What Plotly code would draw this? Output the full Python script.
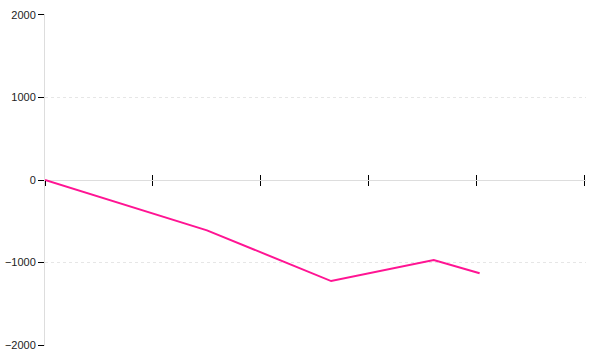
import plotly.graph_objects as go

x_values = [0, 30, 53, 72, 80.5]
y_values = [0, -610, -1225, -970, -1130]
x_ticks = [0, 20, 40, 60, 80, 100]
y_ticks = [-2000, -1000, 0, 1000, 2000]

fig = go.Figure()
fig.add_trace(go.Scatter(x=x_values, y=y_values, mode="lines",
                         line=dict(color="#ff1493", width=2), showlegend=False))
# invisible trace to carry the inward tick axis
fig.add_trace(go.Scatter(x=x_values, y=y_values, mode="lines", xaxis="x2",
                         line=dict(color="rgba(0,0,0,0)", width=0), showlegend=False,
                         hoverinfo="skip"))

common_x = dict(range=[0, 100.2], tickvals=x_ticks, showticklabels=False,
                showgrid=False, zeroline=False, showline=False,
                ticklen=5, tickwidth=1, tickcolor="#000",
                anchor="free", position=0.5, automargin=False)

fig.update_layout(
    width=600, height=360,
    margin=dict(l=45, r=14, t=14, b=14),
    plot_bgcolor="white", paper_bgcolor="white",
    font=dict(family="Liberation Sans, Arial", size=11, color="#222"),
    xaxis=dict(ticks="outside", **common_x),
    xaxis2=dict(ticks="inside", overlaying="x", matches="x", **common_x),
    yaxis=dict(range=[-2012, 2012], tickvals=y_ticks, ticks="outside", ticklen=6,
               tickcolor="#000", showline=True, linecolor="#ddd", linewidth=1,
               showgrid=True, gridcolor="#e6e6e6", griddash="3px,3px",
               zeroline=True, zerolinecolor="#dddddd", zerolinewidth=1,
               automargin=False),
)

fig.write_html("out.html")
